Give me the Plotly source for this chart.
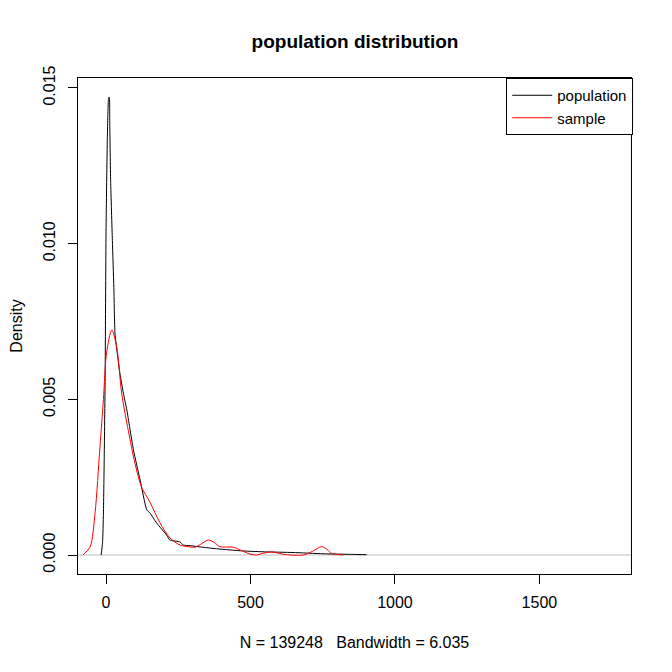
import plotly.graph_objects as go

# population density curve
x_pop = [-17, -12, -9, -6, -3, 0, 4.6, 8, 9.7, 11.3, 13, 16, 22, 27, 31, 40, 48, 60, 72, 95, 118, 141, 152, 175, 210, 221,
         256, 267, 291, 325, 383, 474, 556, 647, 751, 850, 902]
y_pop = [0.0, 0.0004, 0.00135, 0.0033, 0.0058, 0.0104, 0.0134, 0.0146, 0.0147, 0.0147, 0.0138, 0.012, 0.0101, 0.0086, 0.00713, 0.0064, 0.00584,
         0.0052, 0.00466, 0.00337, 0.00241, 0.00145, 0.00135, 0.00103, 0.00064, 0.00048,
         0.00042, 0.00032, 0.00030, 0.00026, 0.0002, 0.00013, 0.0001, 0.00008, 0.00004, 0.00002, 0.00001]

# sample density curve
x_samp = [-80, -55, -38, -21, -9, 2, 20, 37, 54, 77, 100, 123, 152, 187, 221, 256, 291, 308, 330, 354,
          375, 394, 440, 470, 498, 521, 545, 573, 600, 625, 683, 715, 746, 765, 781, 821]
y_samp = [0.0, 0.00026, 0.00135, 0.00347, 0.005, 0.0065, 0.00723, 0.00668, 0.0052, 0.004, 0.00295,
          0.00218, 0.0017, 0.00103, 0.00055, 0.00032, 0.00026, 0.00025, 0.00036, 0.00048,
          0.00040, 0.00027, 0.00025, 0.00014, 0.00003, 0.0, 0.00006, 0.0001, 0.00005, 0.00001, 0.0, 0.00012,
          0.00027, 0.00018, 0.00005, 0.0]

x_ticks = [0, 500, 1000, 1500]
y_ticks = [0.0, 0.005, 0.010, 0.015]
y_tick_labels = ["0.000", "0.005", "0.010", "0.015"]

FONT = "Liberation Sans, Arial, sans-serif"
OFF = 8  # page body offset

fig = go.Figure()
fig.add_trace(go.Scatter(x=x_pop, y=y_pop, mode="lines", name="population",
                         line=dict(color="black", width=1, shape="spline", smoothing=0.5)))
fig.add_trace(go.Scatter(x=x_samp, y=y_samp, mode="lines", name="sample",
                         line=dict(color="red", width=1, shape="spline", smoothing=0.8)))

fig.add_shape(type="line", xref="paper", yref="y", x0=0, x1=1, y0=0, y1=0,
              line=dict(color="#BEBEBE", width=1), layer="below")

fig.update_layout(
    width=672, height=672,
    paper_bgcolor="white", plot_bgcolor="white",
    margin=dict(l=78 - OFF, r=41 + OFF, t=78 - OFF, b=98 + OFF, autoexpand=False),
    font=dict(family=FONT, size=16, color="black"),
    title=dict(text="<b>population distribution</b>", x=(355 - OFF) / 672, xanchor="center",
               y=1 - (41 - OFF) / 672, yanchor="middle", yref="container",
               font=dict(family=FONT, size=19, color="black")),
    showlegend=True,
    legend=dict(x=1.004, y=1, xanchor="right", yanchor="top", bordercolor="black", borderwidth=1,
                bgcolor="white", font=dict(family=FONT, size=15, color="black"),
                tracegroupgap=0, itemwidth=40, entrywidth=78),
    xaxis=dict(range=[-97, 1817], tickvals=x_ticks, ticks="outside", ticklen=9, tickcolor="black",
               showline=True, mirror=True, linecolor="black", linewidth=1, showgrid=False,
               zeroline=False, tickfont=dict(family=FONT, size=16), ticklabelstandoff=5,
               automargin=False,
               title=dict(text="N = 139248   Bandwidth = 6.035", standoff=26,
                          font=dict(family=FONT, size=16))),
    yaxis=dict(range=[-0.00061, 0.01532], tickvals=y_ticks, ticktext=y_tick_labels, tickangle=-90,
               ticks="outside", ticklen=9, tickcolor="black", ticklabelstandoff=7,
               showline=True, mirror=True, linecolor="black", linewidth=1, showgrid=False,
               zeroline=False, tickfont=dict(family=FONT, size=16), automargin=False,
               title=dict(text="Density", standoff=15, font=dict(family=FONT, size=16))),
)

fig.write_html("out.html")
